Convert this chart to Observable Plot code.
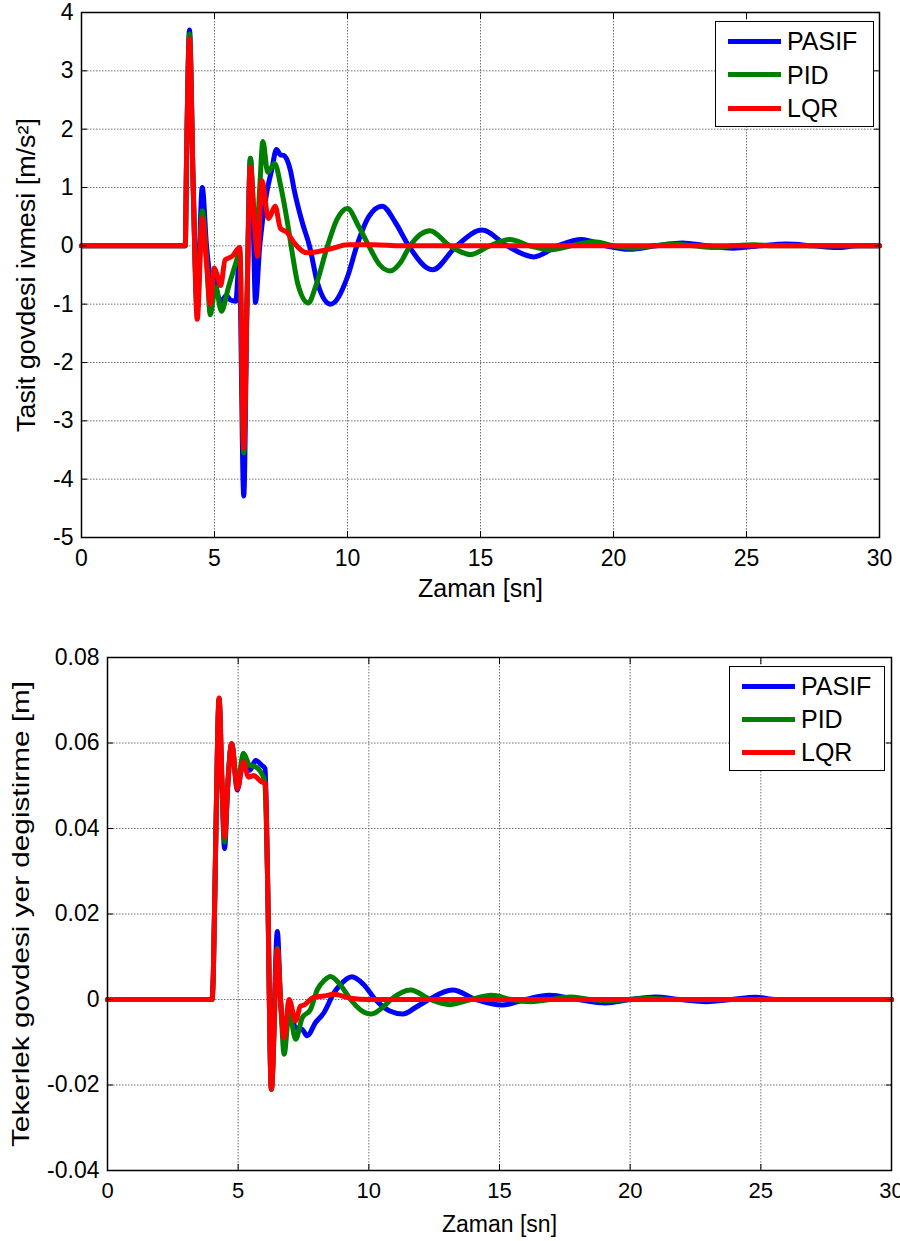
<!DOCTYPE html>
<html>
<head>
<meta charset="utf-8">
<script src="https://cdn.jsdelivr.net/npm/d3@7"></script>
<script src="https://cdn.jsdelivr.net/npm/@observablehq/plot@0.6"></script>
<style>
  html, body { margin: 0; padding: 0; background: #fff; }
  body { width: 900px; height: 1241px; position: relative; overflow: hidden; font-family: "Liberation Sans", Arial, sans-serif; }
  .panel { position: absolute; left: 0; width: 900px; }
  .panel svg { display: block; }
  .legend { position: absolute; background: #fff; border: 1.3px solid #000; box-sizing: border-box; }
  .legend .row { position: absolute; left: 0; right: 0; height: 30px; }
  .legend .sw { position: absolute; left: 12px; width: 53px; height: 5px; }
  .legend .lb { position: absolute; left: 71px; font-size: 25px; color: #000; line-height: 30px; top: 0; }
  #top g[aria-label="x-axis tick label"], #top g[aria-label="y-axis tick label"] { font-size: 23px; }
  #bottom g[aria-label="y-axis tick label"] { font-size: 23px; }
  #bottom g[aria-label="x-axis tick label"] { font-size: 22px; }
</style>
</head>
<body>
<div id="top" class="panel" style="top:0;height:605px"></div>
<div id="bottom" class="panel" style="top:605px;height:636px"></div>
<script>
// ---------- shared ----------
const seriesNames = ["PASIF", "PID", "LQR"];
const seriesColors = ["#0000ff", "#008000", "#ff0000"];
const timeTicks = [0, 5, 10, 15, 20, 25, 30];
const timeLabel = "Zaman [sn]";

// ---------- top chart: vehicle body acceleration [m/s^2] ----------
const accelTicks = [-5, -4, -3, -2, -1, 0, 1, 2, 3, 4];
const accelLabel = "Tasit govdesi ivmesi [m/s²]";
const accelPasif = [
  [0,0],[3.9,0],[3.95,1.5],[4.06,3.7],[4.2,1.0],[4.35,-1.0],[4.54,1.0],[4.7,0.0],[4.87,-0.55],[4.97,-0.45],
  [5.1,-0.8],[5.25,-0.95],[5.45,-0.85],[5.6,-0.93],[5.8,-0.95],[5.93,-0.25],[6.1,-4.29],[6.22,-1.0],[6.35,1.5],
  [6.45,0.5],[6.54,-0.97],[6.7,0.0],[6.95,0.88],[7.15,1.3],[7.33,1.65],[7.48,1.56],[7.6,1.55],[7.7,1.5],
  [7.85,1.3],[8.0,0.95],[8.3,0.4],[8.57,0.0],[8.88,-0.65],[9.36,-1.0],[10.0,-0.53],[10.35,0.0],[10.8,0.5],
  [11.3,0.68],[11.8,0.4],[12.3,0.0],[13.2,-0.41],[14.1,0.0],[15.06,0.27],[16.0,0.0],[17.0,-0.19],[17.9,0.0],
  [18.8,0.11],[19.7,0.0],[20.6,-0.06],[21.6,0.0],[22.6,0.05],[23.5,0.0],[24.5,-0.04],[25.5,0.0],[26.5,0.03],
  [27.5,0.0],[28.4,-0.03],[29.2,0.0],[30,0]
];
const accelPid = [
  [0,0],[3.9,0],[3.95,1.5],[4.06,3.63],[4.2,1.0],[4.35,-1.1],[4.54,0.6],[4.7,-0.2],[4.84,-1.18],[5.04,-0.7],
  [5.26,-1.12],[5.53,-0.7],[5.8,-0.3],[5.95,-0.1],[6.1,-3.55],[6.22,-1.0],[6.35,1.5],[6.45,0.8],[6.58,0.1],
  [6.7,1.0],[6.82,1.79],[7.0,1.26],[7.26,1.41],[7.5,1.0],[7.76,0.35],[7.95,-0.2],[8.13,-0.65],[8.53,-0.98],
  [8.8,-0.7],[9.25,0.0],[9.6,0.45],[10.0,0.64],[10.4,0.35],[10.8,0.0],[11.2,-0.32],[11.6,-0.43],[12.0,-0.28],
  [12.35,0.0],[13.1,0.26],[13.85,0.0],[14.62,-0.15],[15.35,0.0],[16.1,0.11],[16.85,0.0],[17.6,-0.07],[18.4,0.0],
  [19.26,0.07],[20.0,0.0],[20.75,-0.04],[21.5,0.0],[22.2,0.03],[23.0,0.0],[23.8,-0.03],[24.5,0.0],[25.3,0.02],
  [26.0,0.0],[30,0]
];
const accelLqr = [
  [0,0],[3.9,0],[3.95,1.5],[4.06,3.55],[4.2,1.0],[4.35,-1.26],[4.54,0.47],[4.7,-0.3],[4.84,-1.0],[4.99,-0.38],
  [5.1,-0.5],[5.23,-0.68],[5.4,-0.24],[5.66,-0.18],[5.95,-0.03],[6.1,-3.47],[6.22,-1.0],[6.35,1.35],[6.5,0.4],
  [6.62,-0.18],[6.78,1.12],[7.03,0.47],[7.28,0.68],[7.48,0.3],[7.73,0.23],[7.98,0.06],[8.48,-0.12],[8.88,-0.1],
  [9.38,-0.05],[10.0,0.02],[11.0,0.02],[12.0,0.0],[30,0]
];

// ---------- bottom chart: wheel displacement [m] ----------
const dispTicks = [-0.04, -0.02, 0, 0.02, 0.04, 0.06, 0.08];
const dispLabel = "Tekerlek govdesi yer degistirme [m]";
const dispPasif = [
  [0,0],[4.0,0],[4.05,0.006],[4.15,0.04],[4.27,0.0703],[4.38,0.05],[4.48,0.0353],[4.6,0.05],[4.75,0.0598],
  [4.97,0.049],[5.2,0.0567],[5.44,0.0536],[5.67,0.0559],[5.9,0.0548],[6.03,0.054],[6.12,0.03],[6.27,-0.021],
  [6.5,0.0159],[6.62,0.0],[6.76,-0.008],[6.95,-0.002],[7.2,-0.0066],[7.45,-0.007],[7.64,-0.0085],[7.96,-0.0054],
  [8.28,-0.0031],[8.67,0.0016],[8.86,0.0031],[9.35,0.0053],[9.8,0.0035],[10.25,0.0],[10.8,-0.0027],[11.3,-0.0034],
  [11.8,-0.0018],[12.3,0.0],[13.2,0.0022],[14.1,0.0],[15.1,-0.0013],[16.0,0.0],[16.9,0.001],[18.0,0.0],
  [19.05,-0.0008],[20.0,0.0],[20.96,0.0006],[21.9,0.0],[22.9,-0.0005],[23.9,0.0],[24.8,0.0005],[25.6,0.0],[30,0]
];
const dispPid = [
  [0,0],[4.0,0],[4.05,0.006],[4.15,0.04],[4.27,0.0703],[4.38,0.05],[4.48,0.0369],[4.6,0.05],[4.75,0.0598],
  [4.97,0.050],[5.2,0.0576],[5.44,0.0548],[5.67,0.0544],[6.01,0.0513],[6.12,0.03],[6.27,-0.021],[6.5,0.012],
  [6.62,0.0],[6.76,-0.0128],[6.95,-0.003],[7.2,-0.0093],[7.45,-0.0043],[7.77,-0.0023],[8.03,0.0023],[8.3,0.0045],
  [8.53,0.0054],[8.9,0.0035],[9.3,0.0],[9.7,-0.0025],[10.1,-0.0034],[10.5,-0.002],[10.85,0.0],[11.6,0.0022],
  [12.35,0.0],[13.1,-0.0012],[13.9,0.0],[14.7,0.001],[15.45,0.0],[16.2,-0.0005],[16.95,0.0],[17.7,0.0006],
  [18.45,0.0],[19.2,-0.0003],[19.95,0.0],[20.7,0.0003],[21.5,0.0],[30,0]
];
const dispLqr = [
  [0,0],[4.0,0],[4.05,0.006],[4.15,0.04],[4.27,0.0705],[4.38,0.052],[4.48,0.038],[4.6,0.05],[4.75,0.0598],
  [4.97,0.0493],[5.2,0.0555],[5.4,0.052],[5.6,0.0524],[5.75,0.0517],[5.9,0.0509],[6.05,0.0505],[6.12,0.03],
  [6.27,-0.021],[6.5,0.0117],[6.62,0.0],[6.75,-0.009],[6.95,0.0],[7.2,-0.005],[7.38,-0.0016],[7.55,-0.0012],
  [7.84,0.0004],[8.28,0.0008],[8.66,0.0012],[9.3,0.0003],[10.0,0.0],[30,0]
];

function toRows(series) {
  const rows = [];
  series.forEach((pts, i) => pts.forEach(([t, v]) => rows.push({t, v, s: seriesNames[i]})));
  return rows;
}

function makeChart(cfg) {
  const rows = toRows(cfg.series);
  const fmt = d => String(d);
  const none = () => "";
  const gridStyle = {stroke: "#707070", strokeOpacity: 1, strokeWidth: 1, strokeDasharray: "1.5,1.5"};
  const svg = Plot.plot({
    width: 900,
    height: cfg.height,
    marginLeft: cfg.ml, marginRight: cfg.mr, marginTop: cfg.mt, marginBottom: cfg.mb,
    style: {fontFamily: "'Liberation Sans', Arial, sans-serif", fontSize: "20px", color: "#000", background: "transparent"},
    x: {domain: [0, 30]},
    y: {domain: [cfg.yTicks[0], cfg.yTicks[cfg.yTicks.length - 1]]},
    color: {domain: seriesNames, range: seriesColors},
    marks: [
      Plot.gridX(timeTicks, gridStyle),
      Plot.gridY(cfg.yTicks, gridStyle),
      Plot.line(rows, {x: "t", y: "v", z: "s", stroke: "s", strokeWidth: 5, curve: "monotone-x", strokeLinejoin: "round", strokeLinecap: "round"}),
      Plot.frame({stroke: "#000", strokeWidth: 1.5}),
      // tick labels
      Plot.axisX(timeTicks, {anchor: "bottom", tickSize: 0, tickPadding: 12, tickFormat: fmt, label: null}),
      Plot.axisY(cfg.yTicks, {anchor: "left", tickSize: 0, tickPadding: 8, tickFormat: fmt, label: null}),
      // axis titles
      Plot.axisX(timeTicks, {anchor: "bottom", tickSize: 0, tickFormat: none, fontSize: cfg.xLabelFont,
        label: timeLabel, labelAnchor: "center", labelOffset: cfg.xLabelOffset, labelArrow: "none"}),
      Plot.axisY(cfg.yTicks, {anchor: "left", tickSize: 0, tickFormat: none, fontSize: cfg.yLabelFont,
        label: cfg.yLabel, labelAnchor: "center", labelOffset: cfg.yLabelOffset, labelArrow: "none"}),
      // inward ticks on all four sides
      Plot.axisX(timeTicks, {anchor: "bottom", tickSize: -6, tickFormat: none, label: null}),
      Plot.axisX(timeTicks, {anchor: "top", tickSize: -6, tickFormat: none, label: null}),
      Plot.axisY(cfg.yTicks, {anchor: "left", tickSize: -6, tickFormat: none, label: null}),
      Plot.axisY(cfg.yTicks, {anchor: "right", tickSize: -6, tickFormat: none, label: null})
    ]
  });
  // stretch the y-axis title along its length, as in the reference
  svg.querySelectorAll('g[aria-label="y-axis label"] text').forEach(t => {
    t.setAttribute("textLength", cfg.yLabelLength);
    t.setAttribute("lengthAdjust", "spacingAndGlyphs");
  });
  return svg;
}

function makeLegend(host, box) {
  const lg = document.createElement("div");
  lg.className = "legend";
  Object.assign(lg.style, {left: box.x + "px", top: box.y + "px", width: box.w + "px", height: box.h + "px"});
  seriesNames.forEach((name, i) => {
    const row = document.createElement("div");
    row.className = "row";
    row.style.top = (box.rowTop + i * box.rowStep - 15) + "px";
    const sw = document.createElement("div");
    sw.className = "sw";
    sw.style.background = seriesColors[i];
    sw.style.top = "12.5px";
    const lb = document.createElement("div");
    lb.className = "lb";
    lb.textContent = name;
    row.appendChild(sw); row.appendChild(lb);
    lg.appendChild(row);
  });
  host.appendChild(lg);
}

const topHost = document.getElementById("top");
topHost.appendChild(makeChart({
  series: [accelPasif, accelPid, accelLqr], yTicks: accelTicks, yLabel: accelLabel,
  height: 605, ml: 81, mr: 21, mt: 12, mb: 68, xLabelFont: 25, yLabelFont: 25,
  xLabelOffset: 59, yLabelOffset: 64, yLabelLength: 314
}));
makeLegend(topHost, {x: 715, y: 21, w: 159, h: 106, rowTop: 19, rowStep: 33.5});

const botHost = document.getElementById("bottom");
botHost.appendChild(makeChart({
  series: [dispPasif, dispPid, dispLqr], yTicks: dispTicks, yLabel: dispLabel,
  height: 636, ml: 107, mr: 9, mt: 52, mb: 71, xLabelFont: 23, yLabelFont: 24,
  xLabelOffset: 61, yLabelOffset: 96, yLabelLength: 466
}));
makeLegend(botHost, {x: 729, y: 61, w: 156, h: 105, rowTop: 19, rowStep: 33});
</script>
</body>
</html>
